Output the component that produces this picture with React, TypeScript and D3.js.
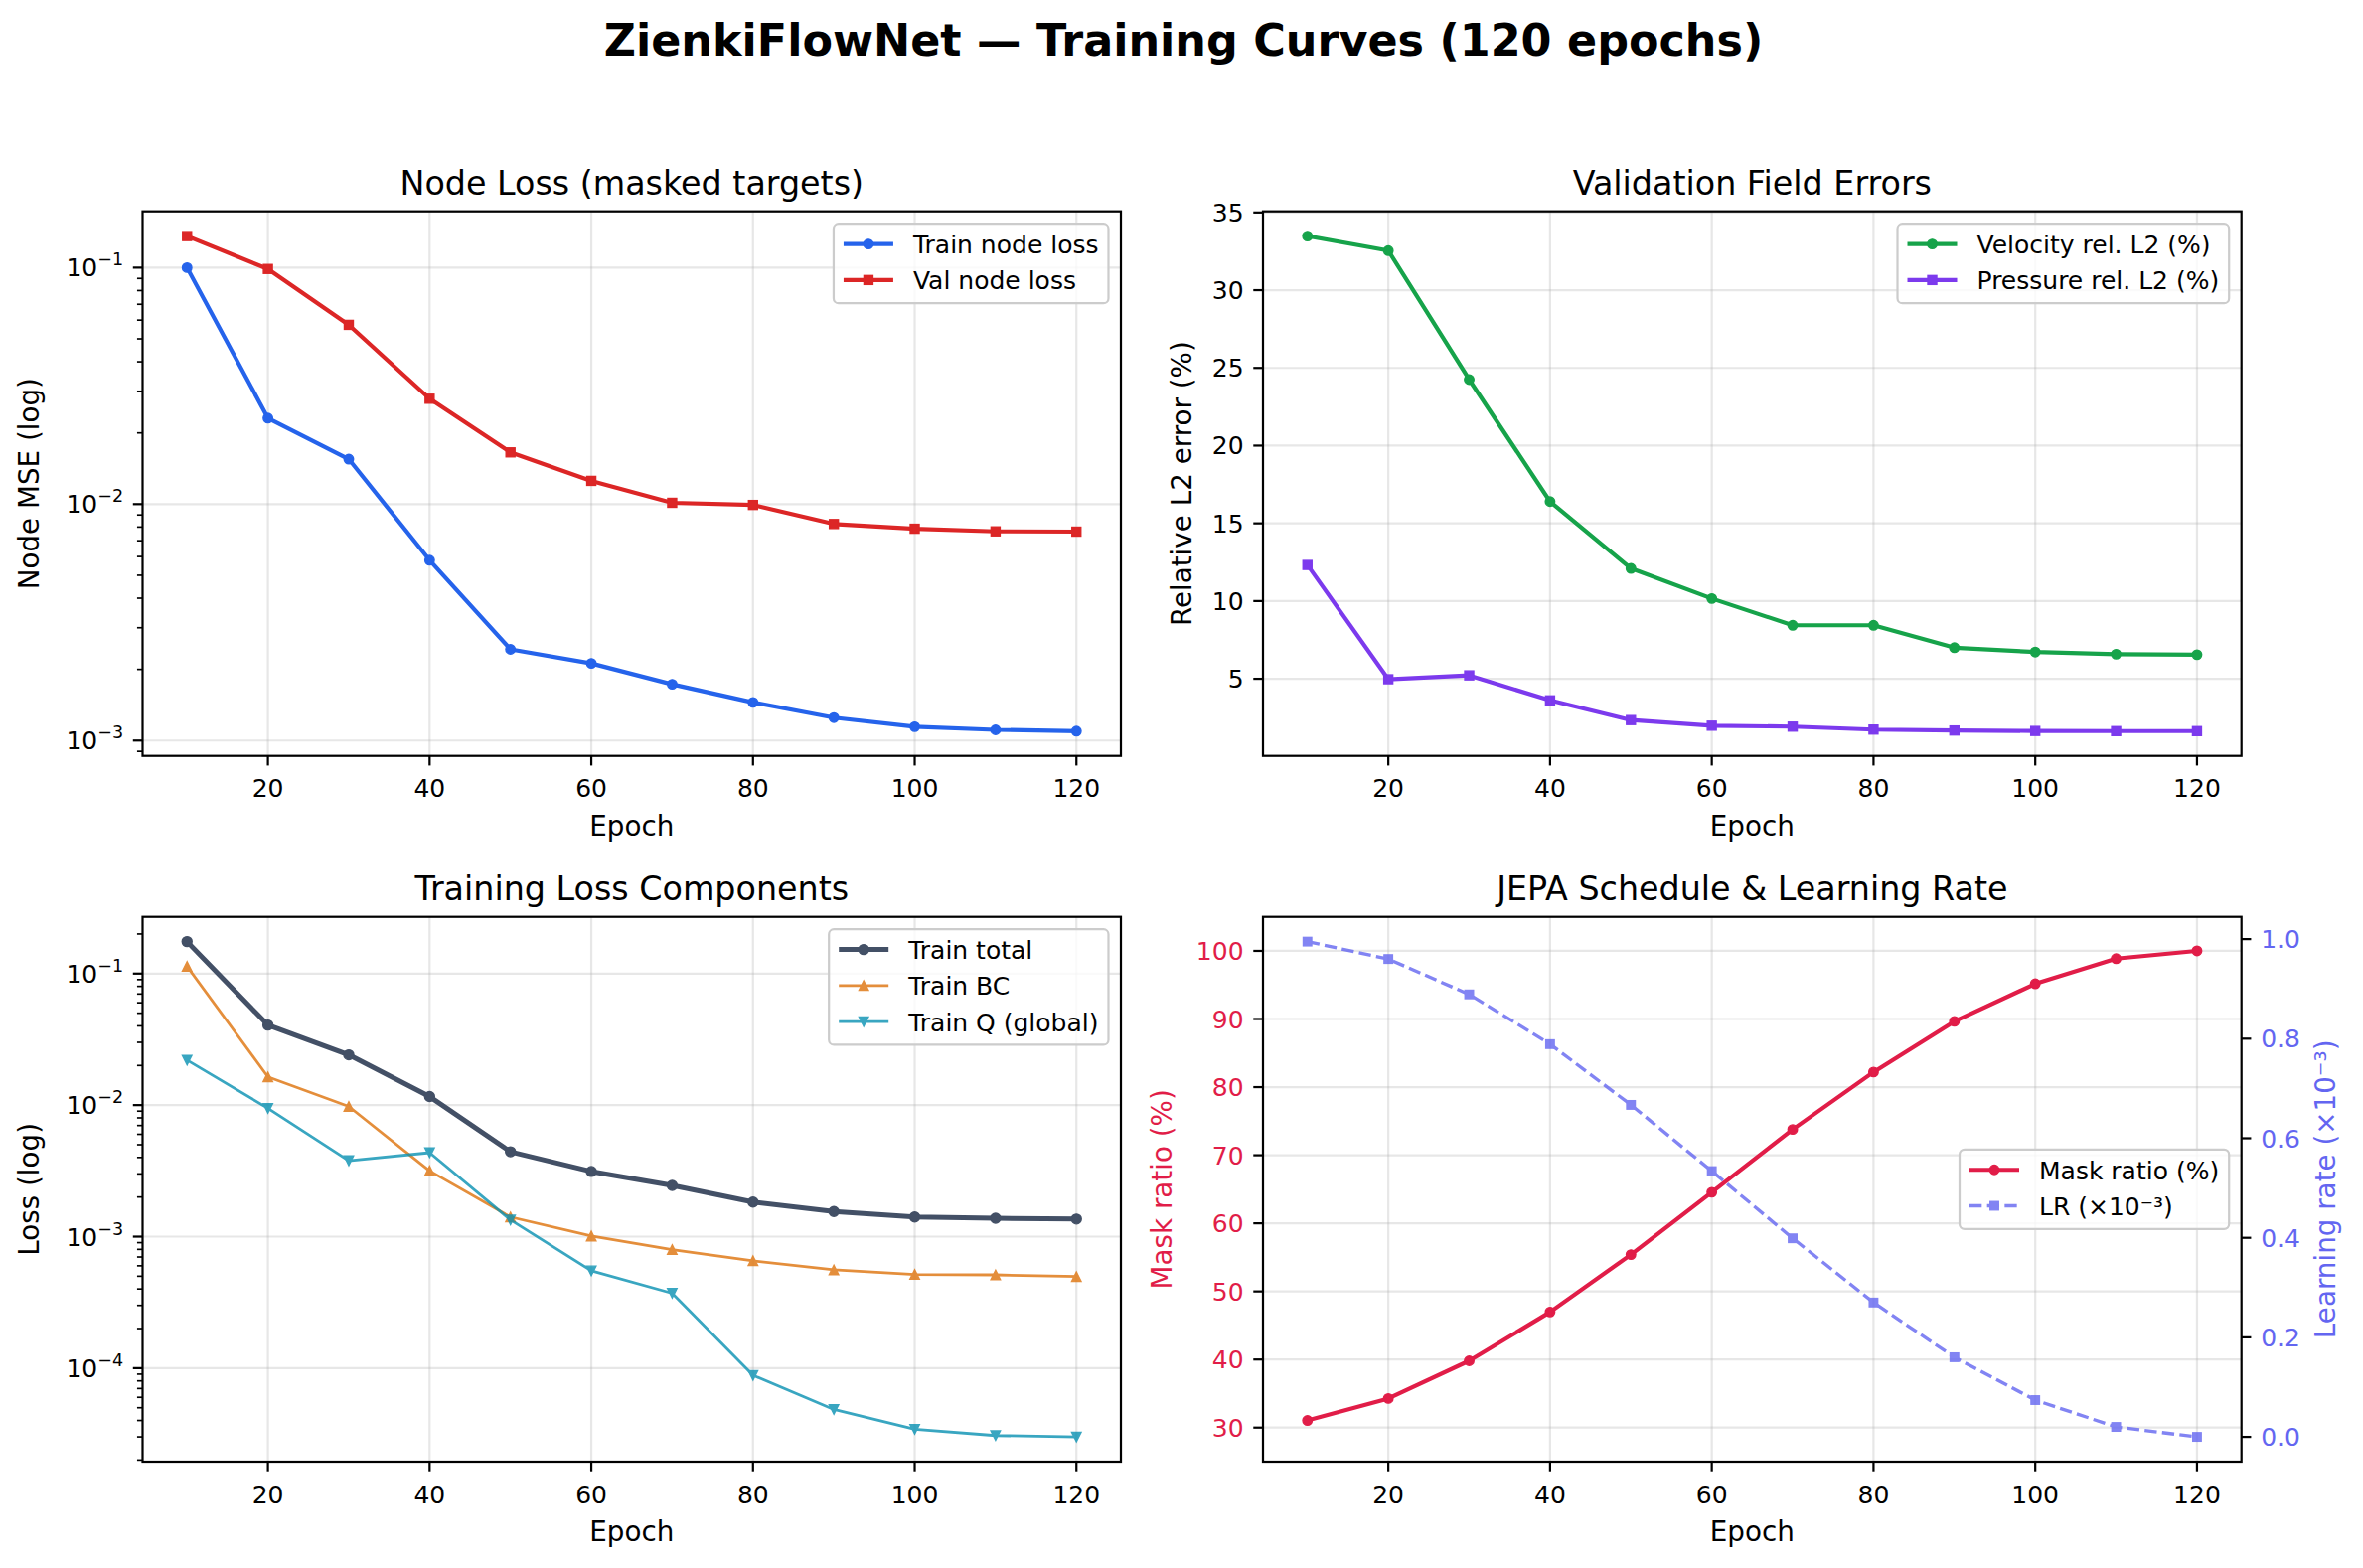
import React from 'react';
import * as d3 from 'd3';

// ---- data -------------------------------------------------------------
const epochs = [10, 20, 30, 40, 50, 60, 70, 80, 90, 100, 110, 120];
const epochTicks = [20, 40, 60, 80, 100, 120];

const trainNodeLoss = [0.1, 0.0231, 0.0155, 0.00579, 0.00243, 0.00212, 0.00173, 0.00145, 0.00125, 0.001144, 0.00111, 0.001096];
const valNodeLoss = [0.136, 0.0987, 0.0573, 0.0279, 0.01655, 0.01254, 0.01013, 0.00992, 0.00824, 0.00787, 0.00767, 0.00765];

const velocityRelL2 = [33.48, 32.54, 24.25, 16.4, 12.1, 10.16, 8.44, 8.44, 7.0, 6.72, 6.58, 6.55];
const pressureRelL2 = [12.32, 4.97, 5.22, 3.61, 2.34, 1.98, 1.92, 1.73, 1.67, 1.64, 1.63, 1.63];
const fieldErrorTicks = [5, 10, 15, 20, 25, 30, 35];

const trainTotal = [0.175, 0.0406, 0.0241, 0.01161, 0.00442, 0.00313, 0.00245, 0.00183, 0.00155, 0.00141, 0.00138, 0.00136];
const trainBC = [0.1134, 0.0164, 0.00977, 0.00316, 0.00141, 0.00101, 0.000796, 0.000654, 0.000559, 0.000516, 0.000512, 0.000497];
const trainQ = [0.022, 0.00946, 0.00378, 0.00435, 0.00134, 0.00055, 0.000371, 0.0000882, 0.0000485, 0.0000343, 0.0000307, 0.00003];

const maskRatio = [31.05, 34.28, 39.81, 46.98, 55.41, 64.56, 73.78, 82.21, 89.65, 95.17, 98.86, 100];
const maskDomain: [number, number] = [25, 105];
const maskTicks = [30, 40, 50, 60, 70, 80, 90, 100];
const learningRate = [0.995, 0.96, 0.889, 0.789, 0.667, 0.534, 0.399, 0.27, 0.16, 0.074, 0.02, 0.0];
const lrTicks = [0.0, 0.2, 0.4, 0.6, 0.8, 1.0];

// ---- layout / style ---------------------------------------------------
const W = 2378;
const H = 1578;
const FONT = "'DejaVu Sans', 'Noto Sans', sans-serif";
const PT = 200 / 72;
const TICK_FS = 9 * PT;
const LABEL_FS = 10 * PT;
const TITLE_FS = 12 * PT;
const SUPTITLE_FS = 16 * PT;
const LEGEND_FS = 9 * PT;
const MAJOR_LEN = 3.5 * PT;
const MINOR_LEN = 2 * PT;
const MAJOR_W = 0.8 * PT;
const MINOR_W = 0.6 * PT;
const SPINE_W = 0.8 * PT;
const TICK_PAD = 3.5 * PT;

const COLS = [{ x0: 143.5, x1: 1128 }, { x0: 1271, x1: 2255.7 }];
const ROWS = [{ y0: 212.7, y1: 760.7 }, { y0: 922.7, y1: 1471 }];

const C_BLUE = '#2563eb';
const C_RED = '#dc2626';
const C_GREEN = '#16a34a';
const C_PURPLE = '#7c3aed';
const C_SLATE = '#435066';
const C_ORANGE = '#e07b1a';
const C_CYAN = '#0891b2';
const C_ROSE = '#e11d48';
const C_INDIGO = '#6366f1';

type Shape = 'o' | 's' | '^' | 'v';
interface SeriesDef {
  name: string;
  values: number[];
  color: string;
  width: number;
  marker: Shape;
  size: number;
  opacity?: number;
  dashed?: boolean;
}

let measureCtx: CanvasRenderingContext2D | null = null;
function textWidth(text: string, size: number): number {
  if (!measureCtx) measureCtx = document.createElement('canvas').getContext('2d');
  if (!measureCtx) return text.length * size * 0.6;
  measureCtx.font = `${size}px 'DejaVu Sans'`;
  return measureCtx.measureText(text).width;
}

function paddedDomain(values: number[], log: boolean): [number, number] {
  const f = log ? Math.log10 : (v: number) => v;
  const t = values.map(f);
  const lo = d3.min(t) as number;
  const hi = d3.max(t) as number;
  const m = (hi - lo) * 0.05;
  return log ? [10 ** (lo - m), 10 ** (hi + m)] : [lo - m, hi + m];
}

function logTicks(domain: [number, number]) {
  const [a, b] = domain;
  const major: number[] = [];
  const minor: number[] = [];
  for (let e = Math.floor(Math.log10(a)); e <= Math.ceil(Math.log10(b)); e++) {
    for (let k = 1; k <= 9; k++) {
      const v = k * 10 ** e;
      if (v >= a && v <= b) (k === 1 ? major : minor).push(v);
    }
  }
  return { major, minor };
}

const xDomain = paddedDomain(epochs, false);

function Marker({ shape, x, y, size, color }: { shape: Shape; x: number; y: number; size: number; color: string }) {
  const h = size / 2;
  const sw = 1.4;
  if (shape === 'o') return <circle cx={x} cy={y} r={h} fill={color} stroke={color} strokeWidth={sw} />;
  if (shape === 's') return <rect x={x - h} y={y - h} width={size} height={size} fill={color} stroke={color} strokeWidth={sw} />;
  const pts = shape === '^'
    ? [[x, y - h], [x - h, y + h], [x + h, y + h]]
    : [[x, y + h], [x - h, y - h], [x + h, y - h]];
  return <polygon points={pts.map((p) => p.join(',')).join(' ')} fill={color} stroke={color} strokeWidth={sw} strokeLinejoin="miter" />;
}

function SeriesPath({ s, xs, ys }: { s: SeriesDef; xs: d3.ScaleLinear<number, number>; ys: (v: number) => number }) {
  const line = d3.line<number>().x((_, i) => xs(epochs[i])).y((v) => ys(v));
  const dash = s.dashed ? `${3.7 * s.width} ${1.6 * s.width}` : undefined;
  return (
    <g opacity={s.opacity ?? 1}>
      <path d={line(s.values) || ''} fill="none" stroke={s.color} strokeWidth={s.width} strokeDasharray={dash} strokeLinejoin="round" strokeLinecap={s.dashed ? 'butt' : 'square'} />
      {s.values.map((v, i) => (
        <Marker key={i} shape={s.marker} x={xs(epochs[i])} y={ys(v)} size={s.size} color={s.color} />
      ))}
    </g>
  );
}

function Legend({ entries, right, top, centerY }: { entries: SeriesDef[]; right: number; top?: number; centerY?: number }) {
  const fs = LEGEND_FS;
  const pad = 0.4 * fs;
  const handleLen = 2 * fs;
  const handlePad = 0.8 * fs;
  const spacing = 0.5 * fs;
  const rowH = 0.95 * fs;
  const tw = Math.max(...entries.map((e) => textWidth(e.name, fs)));
  const w = pad * 2 + handleLen + handlePad + tw;
  const h = pad * 2 + entries.length * rowH + (entries.length - 1) * spacing;
  const x = right - w;
  const y = top !== undefined ? top : (centerY as number) - h / 2;
  return (
    <g>
      <rect x={x} y={y} width={w} height={h} rx={0.2 * fs} fill="#ffffff" fillOpacity={0.8} stroke="#cccccc" strokeWidth={SPINE_W} />
      {entries.map((e, i) => {
        const rowTop = y + pad + i * (rowH + spacing);
        const hy = rowTop + 10.4;
        const hx = x + pad;
        const dash = e.dashed ? `${3.7 * e.width} ${1.6 * e.width}` : undefined;
        return (
          <g key={e.name}>
            <g opacity={e.opacity ?? 1}>
              <line x1={hx} x2={hx + handleLen} y1={hy} y2={hy} stroke={e.color} strokeWidth={e.width} strokeDasharray={dash} />
              <Marker shape={e.marker} x={hx + handleLen / 2} y={hy} size={e.size} color={e.color} />
            </g>
            <text x={hx + handleLen + handlePad} y={rowTop + 20} fontSize={fs} fontFamily={FONT} fill="#000">{e.name}</text>
          </g>
        );
      })}
    </g>
  );
}

function LogLabel({ x, y, v, anchor }: { x: number; y: number; v: number; anchor: 'end' | 'start' }) {
  const e = Math.round(Math.log10(v));
  const exp = e < 0 ? `\u2212${-e}` : `${e}`;
  return (
    <text x={x} y={y} textAnchor={anchor} fontSize={TICK_FS} fontFamily={FONT} fill="#000">
      10<tspan dy={-11} fontSize={TICK_FS * 0.7}>{exp}</tspan>
    </text>
  );
}

interface RightAxis {
  series: SeriesDef;
  ticks: number[];
  label: string;
  labelX: number;
  color: string;
}

interface PanelProps {
  col: number;
  row: number;
  title: string;
  yLabel: string;
  yLabelX: number;
  yColor?: string;
  log: boolean;
  yDomain?: [number, number];
  yTicks?: number[];
  series: SeriesDef[];
  legendLoc: 'upper right' | 'center right';
  right?: RightAxis;
}

function Panel(p: PanelProps) {
  const { x0, x1 } = COLS[p.col];
  const { y0, y1 } = ROWS[p.row];
  const xs = d3.scaleLinear().domain(xDomain).range([x0, x1]);
  const allVals = p.series.flatMap((s) => s.values);
  const domain = p.yDomain ?? paddedDomain(allVals, p.log);
  const ys: any = p.log
    ? d3.scaleLog().domain(domain).range([y1, y0])
    : d3.scaleLinear().domain(domain).range([y1, y0]);
  const lt = p.log ? logTicks(domain) : null;
  const major = lt ? lt.major : (p.yTicks as number[]);
  const minor = lt ? lt.minor : [];
  const tickColor = p.yColor ?? '#000';

  let ysR: any = null;
  if (p.right) {
    ysR = d3.scaleLinear().domain(paddedDomain(p.right.series.values, false)).range([y1, y0]);
  }

  const legendEntries = p.right ? [...p.series, p.right.series] : p.series;
  const cx = (x0 + x1) / 2;
  const cy = (y0 + y1) / 2;

  return (
    <g>
      {/* grid */}
      <g stroke="#b0b0b0" strokeOpacity={0.3} strokeWidth={SPINE_W}>
        {epochTicks.map((t) => (
          <line key={`gx${t}`} x1={xs(t)} x2={xs(t)} y1={y0} y2={y1} />
        ))}
        {major.map((t) => (
          <line key={`gy${t}`} x1={x0} x2={x1} y1={ys(t)} y2={ys(t)} />
        ))}
      </g>

      {/* data */}
      {p.series.map((s) => (
        <SeriesPath key={s.name} s={s} xs={xs} ys={ys} />
      ))}
      {p.right && <SeriesPath s={p.right.series} xs={xs} ys={ysR} />}

      {/* frame */}
      <rect x={x0} y={y0} width={x1 - x0} height={y1 - y0} fill="none" stroke="#000" strokeWidth={SPINE_W} />

      {/* x axis */}
      {epochTicks.map((t) => (
        <g key={`xt${t}`}>
          <line x1={xs(t)} x2={xs(t)} y1={y1} y2={y1 + MAJOR_LEN} stroke="#000" strokeWidth={MAJOR_W} />
          <text x={xs(t)} y={y1 + 41.5} textAnchor="middle" fontSize={TICK_FS} fontFamily={FONT} fill="#000">{t}</text>
        </g>
      ))}
      <text x={cx} y={y1 + 80} textAnchor="middle" fontSize={LABEL_FS} fontFamily={FONT} fill="#000">Epoch</text>

      {/* left y axis */}
      {minor.map((t) => (
        <line key={`ym${t}`} x1={x0 - MINOR_LEN} x2={x0} y1={ys(t)} y2={ys(t)} stroke="#000" strokeWidth={MINOR_W} />
      ))}
      {major.map((t) => (
        <g key={`yt${t}`}>
          <line x1={x0 - MAJOR_LEN} x2={x0} y1={ys(t)} y2={ys(t)} stroke="#000" strokeWidth={MAJOR_W} />
          {p.log ? (
            <LogLabel x={x0 - MAJOR_LEN - TICK_PAD} y={ys(t) + 9} v={t} anchor="end" />
          ) : (
            <text x={x0 - MAJOR_LEN - TICK_PAD} y={ys(t) + 9} textAnchor="end" fontSize={TICK_FS} fontFamily={FONT} fill={tickColor}>{t}</text>
          )}
        </g>
      ))}
      <text transform={`translate(${p.yLabelX},${cy}) rotate(-90)`} textAnchor="middle" fontSize={LABEL_FS} fontFamily={FONT} fill={tickColor}>{p.yLabel}</text>

      {/* right y axis */}
      {p.right && (
        <g>
          {p.right.ticks.map((t) => (
            <g key={`yr${t}`}>
              <line x1={x1} x2={x1 + MAJOR_LEN} y1={ysR(t)} y2={ysR(t)} stroke="#000" strokeWidth={MAJOR_W} />
              <text x={x1 + MAJOR_LEN + TICK_PAD} y={ysR(t) + 9} textAnchor="start" fontSize={TICK_FS} fontFamily={FONT} fill={p.right!.color}>{t.toFixed(1)}</text>
            </g>
          ))}
          <text transform={`translate(${p.right.labelX},${cy}) rotate(-90)`} textAnchor="middle" fontSize={LABEL_FS} fontFamily={FONT} fill={p.right.color}>{p.right.label}</text>
        </g>
      )}

      {/* title */}
      <text x={cx} y={y0 - 17} textAnchor="middle" fontSize={TITLE_FS} fontFamily={FONT} fill="#000">{p.title}</text>

      {/* legend */}
      {p.legendLoc === 'upper right' ? (
        <Legend entries={legendEntries} right={x1 - 0.5 * LEGEND_FS} top={y0 + 0.5 * LEGEND_FS} />
      ) : (
        <Legend entries={legendEntries} right={x1 - 0.5 * LEGEND_FS} centerY={cy} />
      )}
    </g>
  );
}

const LW = 1.5 * PT;

export default function App() {
  return (
    <svg width={W} height={H} viewBox={`0 0 ${W} ${H}`} style={{ position: 'absolute', left: 0, top: 0, display: 'block', background: '#fff' }}>
      <rect x={0} y={0} width={W} height={H} fill="#fff" />
      <text x={1191} y={56} textAnchor="middle" fontSize={SUPTITLE_FS} fontWeight="bold" fontFamily={FONT} fill="#000">
        ZienkiFlowNet — Training Curves (120 epochs)
      </text>

      <Panel
        col={0}
        row={0}
        title="Node Loss (masked targets)"
        yLabel="Node MSE (log)"
        yLabelX={39}
        log
        series={[
          { name: 'Train node loss', values: trainNodeLoss, color: C_BLUE, width: LW, marker: 'o', size: 9.5 },
          { name: 'Val node loss', values: valNodeLoss, color: C_RED, width: LW, marker: 's', size: 9 },
        ]}
        legendLoc="upper right"
      />

      <Panel
        col={1}
        row={0}
        title="Validation Field Errors"
        yLabel="Relative L2 error (%)"
        yLabelX={1198.5}
        log={false}
        yTicks={fieldErrorTicks}
        series={[
          { name: 'Velocity rel. L2 (%)', values: velocityRelL2, color: C_GREEN, width: LW, marker: 'o', size: 9.5 },
          { name: 'Pressure rel. L2 (%)', values: pressureRelL2, color: C_PURPLE, width: LW, marker: 's', size: 9 },
        ]}
        legendLoc="upper right"
      />

      <Panel
        col={0}
        row={1}
        title="Training Loss Components"
        yLabel="Loss (log)"
        yLabelX={39}
        log
        series={[
          { name: 'Train total', values: trainTotal, color: C_SLATE, width: 1.8 * PT, marker: 'o', size: 10 },
          { name: 'Train BC', values: trainBC, color: C_ORANGE, width: 1.0 * PT, marker: '^', size: 9.5, opacity: 0.85 },
          { name: 'Train Q (global)', values: trainQ, color: C_CYAN, width: 1.0 * PT, marker: 'v', size: 9.5, opacity: 0.8 },
        ]}
        legendLoc="upper right"
      />

      <Panel
        col={1}
        row={1}
        title="JEPA Schedule & Learning Rate"
        yLabel="Mask ratio (%)"
        yLabelX={1179}
        yColor={C_ROSE}
        log={false}
        yDomain={maskDomain}
        yTicks={maskTicks}
        series={[
          { name: 'Mask ratio (%)', values: maskRatio, color: C_ROSE, width: LW, marker: 'o', size: 9.5 },
        ]}
        legendLoc="center right"
        right={{
          series: { name: 'LR (×10⁻³)', values: learningRate, color: C_INDIGO, width: 1.2 * PT, marker: 's', size: 8.5, opacity: 0.8, dashed: true },
          ticks: lrTicks,
          label: 'Learning rate (×10⁻³)',
          labelX: 2350,
          color: C_INDIGO,
        }}
      />
    </svg>
  );
}
